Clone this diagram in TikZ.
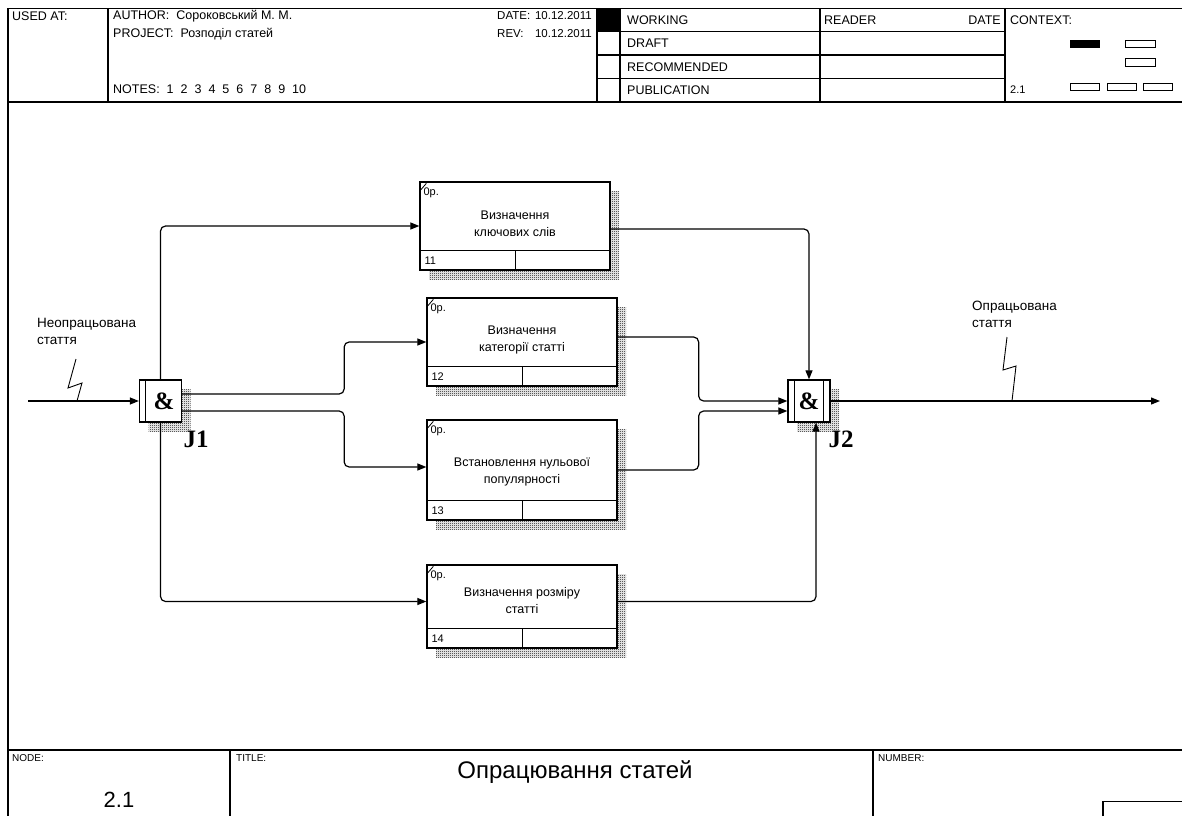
\documentclass[tikz,border=0pt]{standalone}
\usepackage{fontspec}
\setmainfont{Liberation Sans}
\newfontfamily\jfont{Liberation Serif}
\usetikzlibrary{arrows.meta,calc,patterns}

% fine checker used for the drop shadows of boxes and junctions
\pgfdeclarepatternformonly{shadowdots}{\pgfpointorigin}{\pgfpoint{2pt}{2pt}}{\pgfpoint{2pt}{2pt}}{%
  \pgfpathrectangle{\pgfpointorigin}{\pgfpoint{1pt}{1pt}}%
  \pgfpathrectangle{\pgfpoint{1pt}{1pt}}{\pgfpoint{1pt}{1pt}}%
  \pgfusepath{fill}}

\tikzset{
  rule/.style={line width=1.2pt},
  hdr/.style={font=\fontsize{12.5}{14}\selectfont, anchor=west, inner sep=0pt},
  tiny/.style={font=\fontsize{10}{12}\selectfont, anchor=west, inner sep=0pt},
  act/.style={draw, line width=1.3pt, fill=white, minimum width=190pt, inner sep=0pt},
  acttext/.style={font=\fontsize{12.5}{17}\selectfont, align=center, inner sep=0pt},
  actnum/.style={font=\fontsize{11}{12}\selectfont, anchor=west, inner sep=0pt},
  junc/.style={draw, line width=1.3pt, fill=white, minimum size=42pt, inner sep=0pt},
  amp/.style={font=\jfont\bfseries\fontsize{25}{25}\selectfont, inner sep=0pt},
  jlabel/.style={font=\jfont\bfseries\fontsize{25}{25}\selectfont, inner sep=0pt},
  arrlabel/.style={font=\fontsize{13.5}{17}\selectfont, align=left, anchor=north west, inner sep=0pt},
  flow/.style={line width=1.2pt, rounded corners=5pt, -{Triangle[length=9pt,width=7pt]}},
  squig/.style={line width=0.9pt},
  hatchshadow/.style={pattern=shadowdots, pattern color=black},
  ctxbox/.style={draw, line width=1pt},
}

% activity box: name, centre x, centre y, height, number, text, text shift
\newcommand\actbox[7]{%
  \fill[hatchshadow] (#2-95+9,#3-#4/2+9) rectangle (#2+95+9,#3+#4/2+9);
  \node[act, minimum height=#4pt] (#1) at (#2,#3) {};
  \draw[line width=1pt] ([yshift=20pt]#1.south west) -- ([yshift=20pt]#1.south east);
  \draw[line width=1pt] ([xshift=96pt,yshift=20pt]#1.south west) -- ([xshift=96pt]#1.south west);
  \node[actnum] (#1num) at ([xshift=5pt,yshift=10pt]#1.south west) {#5};
  \node[actnum] (#1cost) at ([xshift=4pt,yshift=-11pt]#1.north west) {0р.};
  \draw[line width=0.8pt] ([xshift=1pt,yshift=-9pt]#1.north west) -- ([xshift=7pt,yshift=-2pt]#1.north west);
  \node[acttext] (#1txt) at ([yshift=#7pt]#1.center) {#6};
}

\begin{document}
\begin{tikzpicture}[x=1pt,y=-1pt]
\useasboundingbox (0,0) rectangle (1182,816);
\fill[white] (0,0) rectangle (1182,816);

% ---------- frame and header ----------
\draw[rule] (8,8.5) -- (1182,8.5);
\draw[rule] (8,8.5) -- (8,816);
\draw[rule] (8,102) -- (1182,102);
\foreach \x in {108,597,620,820,1005} \draw[rule] (\x,8.5) -- (\x,102);
\foreach \y in {31.5,55,78.5} \draw[rule] (597,\y) -- (1005,\y);
\fill (597,8.5) rectangle (620,31.5);

\node[hdr] (usedat) at (12,16) {USED AT:};
\node[hdr] (author) at (113,16) {AUTHOR:\ \ Сороковський М. М.};
\node[hdr] (project) at (113,34) {PROJECT:\ \ Розподіл статей};
\node[hdr] (notes) at (113,89) {NOTES:\ \ 1\hspace{7pt}2\hspace{7pt}3\hspace{7pt}4\hspace{7pt}5\hspace{7pt}6\hspace{7pt}7\hspace{7pt}8\hspace{7pt}9\hspace{7pt}10};
\node[hdr, font=\fontsize{11.5}{14}\selectfont] (date) at (497,16) {DATE:};
\node[hdr, font=\fontsize{11.5}{14}\selectfont] (rev) at (497,34) {REV:};
\node[hdr, anchor=east, font=\fontsize{11.5}{14}\selectfont] (dateval) at (592,16) {10.12.2011};
\node[hdr, anchor=east, font=\fontsize{11.5}{14}\selectfont] (revval) at (592,34) {10.12.2011};

\node[hdr] (working) at (627,20.5) {WORKING};
\node[hdr] (draft) at (627,43.5) {DRAFT};
\node[hdr] (recommended) at (627,67) {RECOMMENDED};
\node[hdr] (publication) at (627,90) {PUBLICATION};
\node[hdr] (reader) at (824,20.5) {READER};
\node[hdr, anchor=east] (rdate) at (1001,20.5) {DATE};
\node[hdr] (context) at (1010,20.5) {CONTEXT:};
\node[hdr, font=\fontsize{11}{12}\selectfont] (ctxnum) at (1010,90) {2.1};

\fill (1070,40.5) rectangle (1100,48);
\draw[ctxbox] (1125,40.5) rectangle (1155,48);
\draw[ctxbox] (1125,58.5) rectangle (1155,66);
\draw[ctxbox] (1070,83) rectangle (1099,90.5);
\draw[ctxbox] (1107,83) rectangle (1136,90.5);
\draw[ctxbox] (1143,83) rectangle (1172,90.5);

% ---------- footer ----------
\draw[rule] (8,750) -- (1182,750);
\draw[rule] (230,750) -- (230,816);
\draw[rule] (873,750) -- (873,816);
\draw[rule] (1103,816) -- (1103,801.5) -- (1182,801.5);
\node[tiny] (nodelbl) at (12,758) {NODE:};
\node[tiny] (titlelbl) at (236,758) {TITLE:};
\node[tiny] (numberlbl) at (878,758) {NUMBER:};
\node[font=\fontsize{22}{24}\selectfont, inner sep=0pt] (nodenum) at (119,800) {2.1};
\node[font=\fontsize{24}{26}\selectfont, inner sep=0pt] (title) at (575,772) {Опрацювання статей};

% ---------- activities ----------
\actbox{b11}{515}{226}{88}{11}{Визначення\\ключових слів}{2}
\actbox{b12}{522}{342}{88}{12}{Визначення\\категорії статті}{2}
\actbox{b13}{522}{470}{100}{13}{Встановлення нульової\\популярності}{-2}
\actbox{b14}{522}{606.5}{83}{14}{Визначення розміру\\статті}{6}

% ---------- junctions ----------
\fill[hatchshadow] (148.5,389) rectangle (190.5,431);
\node[junc] (j1) at (160.5,401) {};
\draw[line width=1pt] ([xshift=7pt]j1.north west) -- ([xshift=7pt]j1.south west);
\node[amp] (j1amp) at ([xshift=3.5pt]j1.center) {\&};
\node[jlabel] (j1lbl) at (196,439) {J1};

\fill[hatchshadow] (797,389) rectangle (839,431);
\node[junc] (j2) at (809,401) {};
\draw[line width=1pt] ([xshift=7pt]j2.north west) -- ([xshift=7pt]j2.south west);
\draw[line width=1pt] ([xshift=-7pt]j2.north east) -- ([xshift=-7pt]j2.south east);
\node[amp] (j2amp) at (j2.center) {\&};
\node[jlabel] (j2lbl) at (841,439) {J2};

% ---------- flows ----------
\coordinate (in) at (28,401);
\coordinate (out) at (1160,401);
\draw[flow] (in) -- (j1.west);
\draw[flow] (j1.north) |- (b11.west);
\draw[flow] ([yshift=7pt]j1.east) -- ++(162,0) |- (b12.west);
\draw[flow] ([yshift=-10pt]j1.east) -- ++(162,0) |- ([yshift=3pt]b13.west);
\draw[flow] (j1.south) |- ([yshift=5pt]b14.west);

\draw[flow] ([yshift=-3pt]b11.east) -| (j2.north);
\draw[flow] ([yshift=5pt]b12.east) -- ++(81,0) |- (j2.west);
\draw[flow] (b13.east) -- ++(81,0) |- ([yshift=-10pt]j2.west);
\draw[flow] ([yshift=5pt]b14.east) -| ([xshift=7pt]j2.south);
\draw[flow] (j2.east) -- (out);

% ---------- arrow labels with squiggles ----------
\node[arrlabel] (inlbl) at (37,318) {Неопрацьована\\стаття};
\coordinate (insq) at (77,401);
\draw[squig] (76,359) -- (68,388) -- (82,383) -- (insq);

\node[arrlabel] (outlbl) at (972,301) {Опрацьована\\стаття};
\coordinate (outsq) at (1012,401);
\draw[squig] (1007,337) -- (1003,370) -- (1016,366) -- (outsq);
\end{tikzpicture}
\end{document}
